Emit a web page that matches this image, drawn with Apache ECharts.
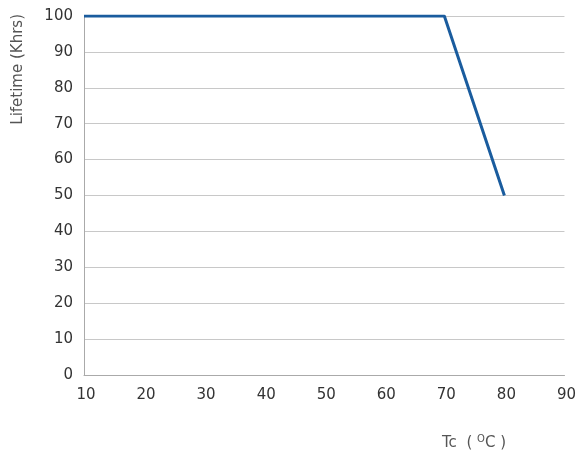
<!DOCTYPE html>
<html><head><meta charset="utf-8">
<script src="https://cdn.jsdelivr.net/npm/echarts@6/dist/echarts.min.js"></script>
<style>html,body{margin:0;padding:0;background:#fff}#c{width:579px;height:454px}</style>
</head><body><div id="c"></div>
<script>
const xValues = [10, 70, 80];
const lifetime = [100, 100, 50];
const xTicks = [10, 20, 30, 40, 50, 60, 70, 80, 90];
const yTicks = [0, 10, 20, 30, 40, 50, 60, 70, 80, 90, 100];
const chart = echarts.init(document.getElementById('c'));
const font = 'DejaVu Sans';
chart.setOption({
  animation: false,
  grid: {left: 84, right: 14, top: 16, bottom: 79},
  xAxis: {
    type: 'value', min: xTicks[0], max: xTicks[xTicks.length-1], interval: 10,
    axisLine: {show: true, lineStyle: {color: '#aaa', width: 1}},
    axisTick: {show: false},
    splitLine: {show: false},
    axisLabel: {color: '#333', fontSize: 15, fontFamily: font, margin: 13, padding: [0,0,0,4]}
  },
  yAxis: {
    type: 'value', min: yTicks[0], max: yTicks[yTicks.length-1], interval: 10,
    axisLine: {show: true, lineStyle: {color: '#aaa', width: 1}},
    axisTick: {show: false},
    splitLine: {show: true, lineStyle: {color: '#c8c8c8', width: 1}},
    axisLabel: {color: '#333', fontSize: 15, fontFamily: font, margin: 11}
  },
  graphic: [
    {type: 'text', left: 11, top: 14, rotation: Math.PI/2,
     style: {text: 'Lifetime (Khrs)', fill: '#555', font: '15px "DejaVu Sans"'}},
    {type: 'text', left: 442, top: 434,
     style: {fill: '#555', rich: {n: {fontSize: 15, fill: '#555', fontFamily: font}, s: {fontSize: 10, fill: '#555', fontFamily: font, verticalAlign: 'top', padding:[0,0,9,0]}},
       text: '{n|Tc  ( }{s|O}{n|C )}'}}
  ],
  series: [{
    type: 'line', data: xValues.map((x, i) => [x, lifetime[i]]),
    symbol: 'none', lineStyle: {color: '#1a5c9e', width: 3}
  }]
});
</script></body></html>
